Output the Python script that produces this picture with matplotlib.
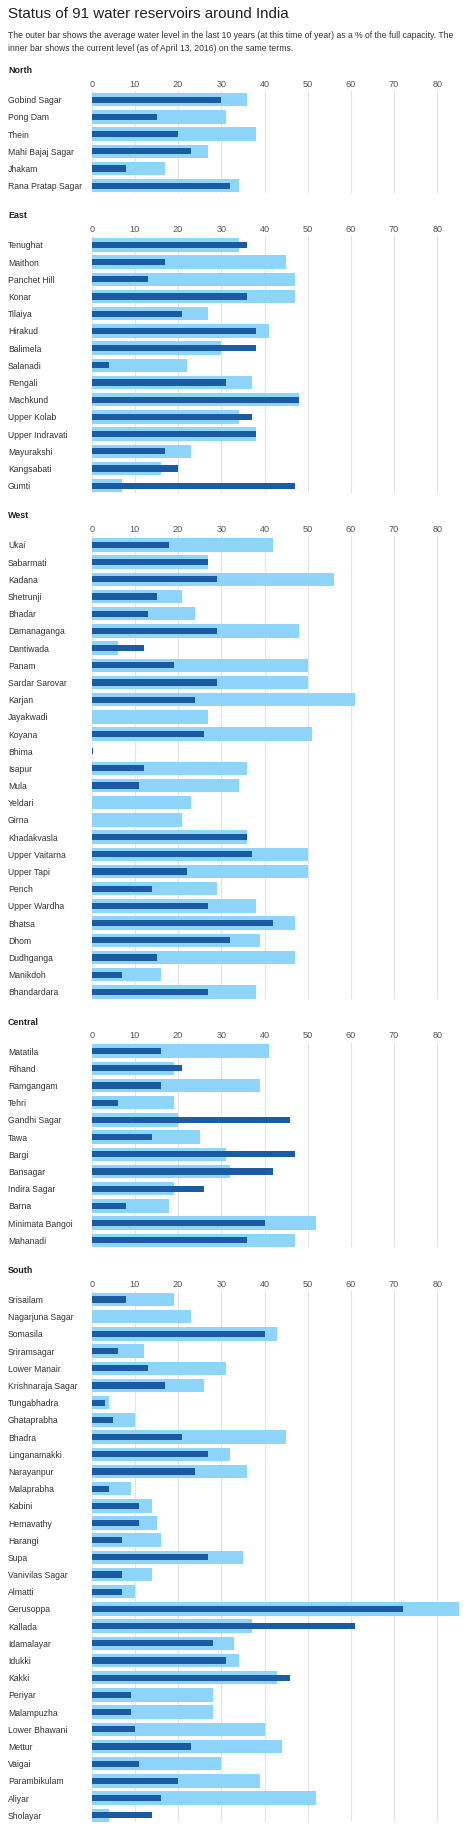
import matplotlib
matplotlib.use("Agg")
import matplotlib.pyplot as plt

plt.rcParams["font.family"] = ["Liberation Sans", "DejaVu Sans"]

# average level over last 10 years (outer) and current level (inner), % of capacity
north_names = ["Gobind Sagar", "Pong Dam", "Thein", "Mahi Bajaj Sagar", "Jhakam",
               "Rana Pratap Sagar"]
north_avg = [36, 31, 38, 27, 17, 34]
north_now = [30, 15, 20, 23, 8, 32]

east_names = ["Tenughat", "Maithon", "Panchet Hill", "Konar", "Tilaiya", "Hirakud",
              "Balimela", "Salanadi", "Rengali", "Machkund", "Upper Kolab",
              "Upper Indravati", "Mayurakshi", "Kangsabati", "Gumti"]
east_avg = [34, 45, 47, 47, 27, 41, 30, 22, 37, 48, 34, 38, 23, 16, 7]
east_now = [36, 17, 13, 36, 21, 38, 38, 4, 31, 48, 37, 38, 17, 20, 47]

west_names = ["Ukai", "Sabarmati", "Kadana", "Shetrunji", "Bhadar", "Damanaganga",
              "Dantiwada", "Panam", "Sardar Sarovar", "Karjan", "Jayakwadi", "Koyana",
              "Bhima", "Isapur", "Mula", "Yeldari", "Girna", "Khadakvasla",
              "Upper Vaitarna", "Upper Tapi", "Pench", "Upper Wardha", "Bhatsa", "Dhom",
              "Dudhganga", "Manikdoh", "Bhandardara"]
west_avg = [42, 27, 56, 21, 24, 48, 6, 50, 50, 61, 27, 51, 0, 36, 34, 23, 21, 36,
            50, 50, 29, 38, 47, 39, 47, 16, 38]
west_now = [18, 27, 29, 15, 13, 29, 12, 19, 29, 24, 0, 26, 0.3, 12, 11, 0, 0, 36,
            37, 22, 14, 27, 42, 32, 15, 7, 27]

central_names = ["Matatila", "Rihand", "Ramgangam", "Tehri", "Gandhi Sagar", "Tawa",
                 "Bargi", "Bansagar", "Indira Sagar", "Barna", "Minimata Bangoi",
                 "Mahanadi"]
central_avg = [41, 19, 39, 19, 20, 25, 31, 32, 19, 18, 52, 47]
central_now = [16, 21, 16, 6, 46, 14, 47, 42, 26, 8, 40, 36]

south_names = ["Srisailam", "Nagarjuna Sagar", "Somasila", "Sriramsagar", "Lower Manair",
               "Krishnaraja Sagar", "Tungabhadra", "Ghataprabha", "Bhadra",
               "Linganamakki", "Narayanpur", "Malaprabha", "Kabini", "Hemavathy",
               "Harangi", "Supa", "Vanivilas Sagar", "Almatti", "Gerusoppa", "Kallada",
               "Idamalayar", "Idukki", "Kakki", "Periyar", "Malampuzha", "Lower Bhawani",
               "Mettur", "Vaigai", "Parambikulam", "Aliyar", "Sholayar"]
south_avg = [19, 23, 43, 12, 31, 26, 4, 10, 45, 32, 36, 9, 14, 15, 16, 35, 14, 10, 85,
             37, 33, 34, 43, 28, 28, 40, 44, 30, 39, 52, 4]
south_now = [8, 0, 40, 6, 13, 17, 3, 5, 21, 27, 24, 4, 11, 11, 7, 27, 7, 7, 72, 61,
             28, 31, 46, 9, 9, 10, 23, 11, 20, 16, 14]

regions = [
    ("North", north_names, north_avg, north_now),
    ("East", east_names, east_avg, east_now),
    ("West", west_names, west_avg, west_now),
    ("Central", central_names, central_avg, central_now),
    ("South", south_names, south_avg, south_now),
]

W, H = 474, 1836
fig = plt.figure(figsize=(W / 100, H / 100), dpi=100)
fig.patch.set_facecolor("white")

OUTER = "#8fd5fb"
INNER = "#1a5ba3"
GRID = "#e4e4e4"

x0, x80 = 91.7, 437.3  # pixel position of 0 and 80
per_unit = (x80 - x0) / 80
xmax = (W - x0) / per_unit
step = 17.19


def fx(px):
    return px / W


def fy(py):
    return 1 - py / H


fig.text(fx(8), fy(14), "Status of 91 water reservoirs around India",
         fontsize=10.9, color="#222222", va="center", ha="left")
fig.text(fx(8), fy(35.5),
         "The outer bar shows the average water level in the last 10 years (at this time of year) "
         "as a % of the full capacity. The",
         fontsize=6.2, color="#333333", va="center", ha="left")
fig.text(fx(8), fy(48.5),
         "inner bar shows the current level (as of April 13, 2016) on the same terms.",
         fontsize=6.2, color="#333333", va="center", ha="left")

c0 = 99.7
for region, names, avg, now in regions:
    n = len(names)
    top = c0 - step / 2
    bottom = c0 + (n - 1) * step + step / 2 - 1.5
    ax = fig.add_axes([fx(x0), fy(bottom), fx(W) - fx(x0), (bottom - top) / H])
    ypos = list(range(n))
    ax.barh(ypos, avg, height=0.78, color=OUTER, zorder=2)
    ax.barh(ypos, now, height=0.36, color=INNER, zorder=3)
    ax.set_xlim(0, xmax)
    ax.set_ylim(n - 0.5 - 1.5 / step, -0.5)
    ax.set_xticks(range(0, 81, 10))
    ax.xaxis.tick_top()
    ax.tick_params(axis="x", length=0, pad=1.5, labelsize=6.6, labelcolor="#555555")
    ax.set_yticks(ypos)
    ax.set_yticklabels(names)
    ax.tick_params(axis="y", length=0, pad=(x0 - 8) * 0.72, labelsize=6.2,
                   labelcolor="#333333")
    for lab in ax.get_yticklabels():
        lab.set_horizontalalignment("left")
    ax.grid(axis="x", color=GRID, linewidth=0.8, zorder=0)
    ax.set_axisbelow(True)
    for sp in ax.spines.values():
        sp.set_visible(False)
    fig.text(fx(8), fy(c0 - 29), region, fontsize=6.4, fontweight="bold",
             color="#222222", va="center", ha="left")
    c0 = c0 + (n - 1) * step + 59.3

fig.savefig("out.png", dpi=100, facecolor="white")
